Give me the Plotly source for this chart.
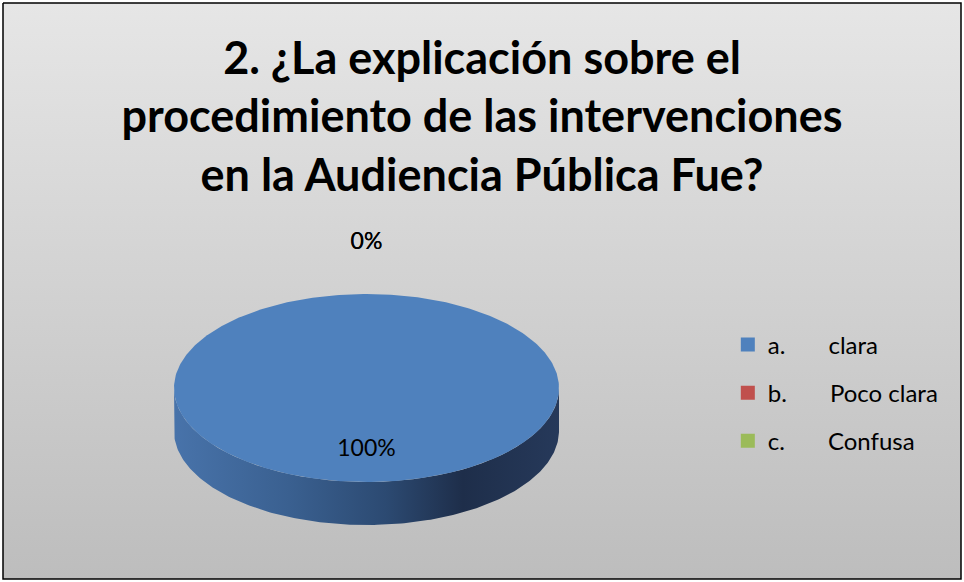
import numpy as np
import plotly.graph_objects as go

# ---- data ----
letters = ["a.", "b.", "c."]
answers = ["clara", "Poco clara", "Confusa"]
values = [100, 0, 0]
colors = ["#4f81bd", "#c0504d", "#9bbb59"]
title_text = "2. ¿La explicación sobre el<br>procedimiento de las intervenciones<br>en la Audiencia Pública Fue?"

# ---- geometry / style (pixel space) ----
W, H = 964, 582
cx, cy, rx, ry, depth = 366.5, 388.0, 192.5, 94.0, 43.0
FONT = "Lato"

total = float(sum(values))
shares = [v / total for v in values]

fig = go.Figure()

# background panel with vertical gradient and border
fig.add_trace(go.Scatter(
    x=[3, 961, 961, 3, 3], y=[3, 3, 579, 579, 3], mode="lines",
    fill="toself", line=dict(color="#000000", width=1.5),
    fillgradient=dict(type="vertical", start=3, stop=579,
                      colorscale=[[0, "#e6e6e6"], [1, "#bdbdbd"]]),
    hoverinfo="skip", showlegend=False))

def ell(theta, dy=0.0):
    return cx + rx * np.sin(theta), cy - ry * np.cos(theta) + dy

# side walls (front half of each slice)
start = 0.0
for s, c in zip(shares, colors):
    a0, a1 = start, start + s * 2 * np.pi
    start = a1
    lo, hi = max(a0, np.pi / 2), min(a1, 3 * np.pi / 2)
    if s <= 0 or hi <= lo:
        continue
    t = np.linspace(lo, hi, 200)
    xt, yt = ell(t)
    xb, yb = ell(t[::-1], depth)
    fig.add_trace(go.Scatter(
        x=np.concatenate([xt, xb, xt[:1]]), y=np.concatenate([yt, yb, yt[:1]]),
        mode="lines", fill="toself", line=dict(width=0),
        fillgradient=dict(type="horizontal", start=cx - rx, stop=cx + rx,
                          colorscale=[[0, "#4873aa"], [0.3, "#3a6090"], [0.55, "#2c4a72"],
                                      [0.75, "#1e2e4a"], [1, "#26395a"]]),
        hoverinfo="skip", showlegend=False))

# top faces
start = 0.0
for s, c in zip(shares, colors):
    a0, a1 = start, start + s * 2 * np.pi
    start = a1
    if s <= 0:
        continue
    t = np.linspace(a0, a1, 400)
    xt, yt = ell(t)
    if s < 1:
        xt = np.concatenate([[cx], xt, [cx]])
        yt = np.concatenate([[cy], yt, [cy]])
    fig.add_trace(go.Scatter(x=xt, y=yt, mode="lines", fill="toself",
                             fillcolor=c, line=dict(width=0),
                             hoverinfo="skip", showlegend=False))

# percentage labels
start = 0.0
lx, ly, lt = [], [], []
for v, s in zip(values, shares):
    mid = start + s * np.pi
    start += s * 2 * np.pi
    k = 0.66 if s > 0.05 else 1.54
    lx.append(cx + k * rx * np.sin(mid))
    ly.append(cy - k * ry * np.cos(mid))
    lt.append(f"{round(s * 100)}%")
fig.add_trace(go.Scatter(x=lx, y=ly, mode="text", text=lt,
                         textfont=dict(family=FONT, size=23, color="#000000"),
                         hoverinfo="skip", showlegend=False))

# legend entries
nb = "\u00a0"
for i, (l, a, c) in enumerate(zip(letters, answers, colors)):
    fig.add_trace(go.Scatter(x=[None], y=[None], mode="markers",
                             marker=dict(symbol="square", size=14, color=c),
                             name=l + nb * 7 + a, legendgroup=str(i)))

fig.update_layout(
    width=W, height=H, margin=dict(l=0, r=0, t=0, b=0),
    paper_bgcolor="#ffffff", plot_bgcolor="#ffffff",
    xaxis=dict(range=[0, W], visible=False, fixedrange=True),
    yaxis=dict(range=[H, 0], visible=False, fixedrange=True),
    title=dict(text=title_text, x=0.5, xanchor="center", y=0.873, yanchor="top",
               font=dict(family=FONT, size=45, color="#000000", weight="bold")),
    legend=dict(x=0.755, xanchor="left", y=0.325, yanchor="middle",
                bgcolor="rgba(0,0,0,0)", font=dict(family=FONT, size=24, color="#000000"),
                tracegroupgap=14, itemsizing="trace"),
    showlegend=True,
)

fig.write_html("out.html", config={"displayModeBar": False},
               post_script="document.body.style.margin='0px';")
